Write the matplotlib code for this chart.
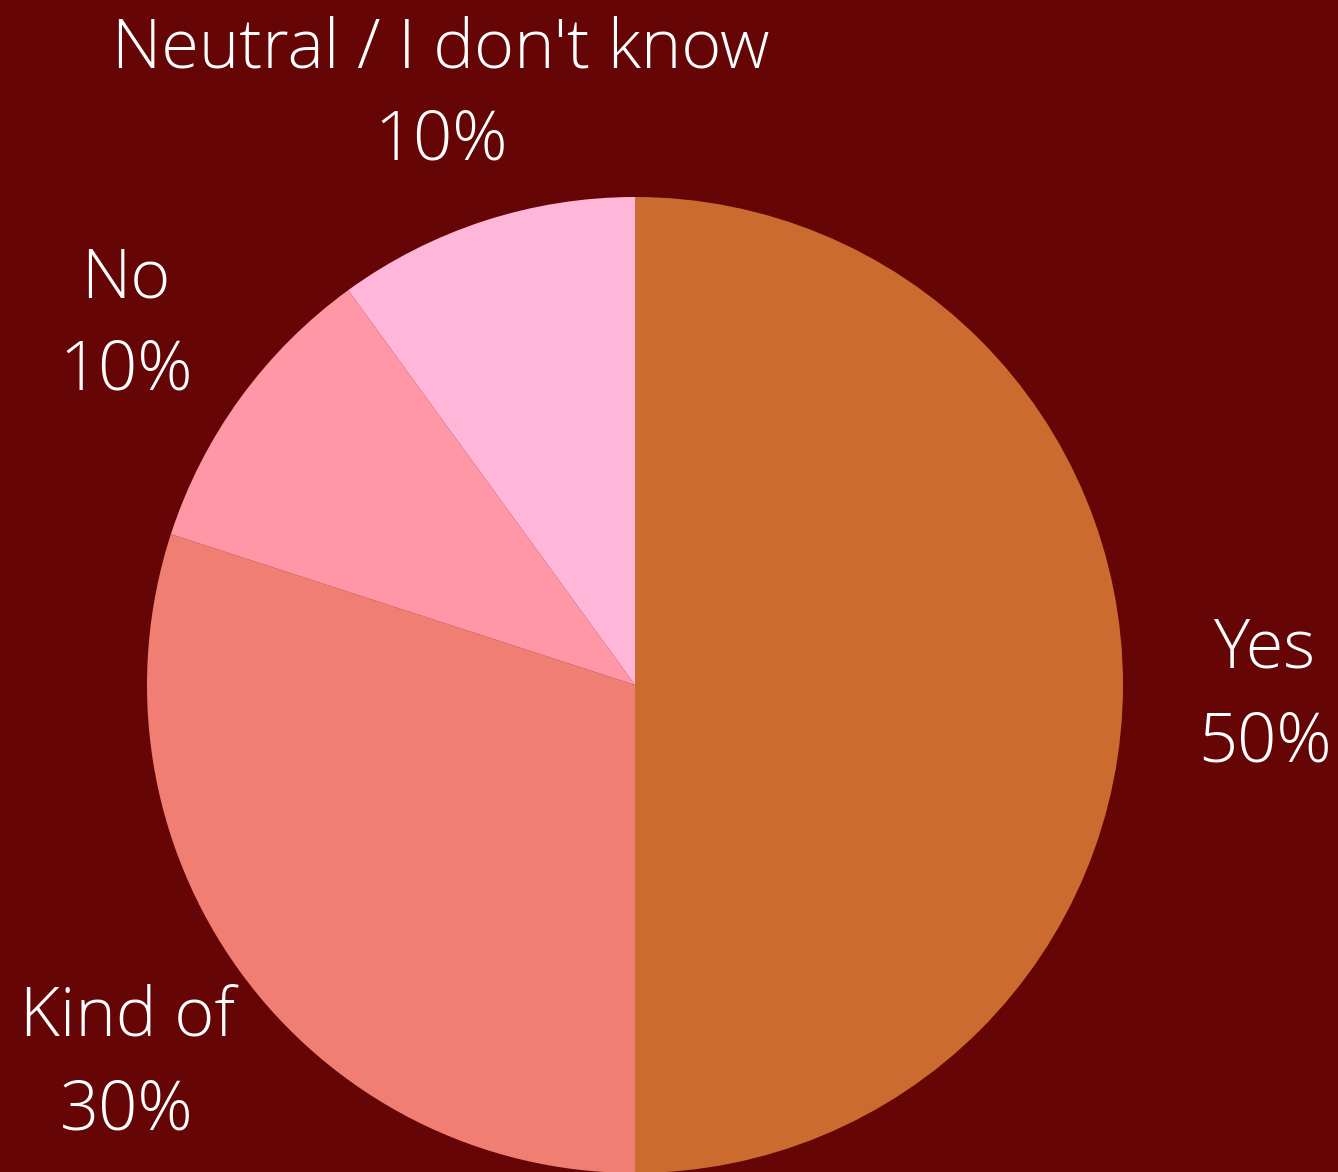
import matplotlib
matplotlib.use("Agg")
import matplotlib.pyplot as plt

categories = ["Yes", "Kind of", "No", "Neutral / I don't know"]
values = [50, 30, 10, 10]
pct_labels = ["50%", "30%", "10%", "10%"]
colors = ["#CC6B30", "#F07E72", "#FF97A6", "#FFB6D9"]
bg = "#650505"

W, H = 1338, 1172
fig = plt.figure(figsize=(W / 100, H / 100), dpi=100, facecolor=bg)
ax = fig.add_axes([0, 0, 1, 1])
ax.set_facecolor(bg)

cx, cy, r = 635, H - 685, 488
ax.pie(values, colors=colors, startangle=90, counterclock=False,
       center=(cx, cy), radius=r, frame=True,
       wedgeprops=dict(linewidth=0))
ax.set_xlim(0, W)
ax.set_ylim(0, H)
ax.set_aspect("equal")
ax.axis("off")

# label positions (pixel coords): x center, baseline of name, baseline of pct
label_pos = [(1265, 667, 762), (127, 1035, 1130), (126, 297, 390), (441, 68, 160)]
font = dict(family=["Open Sans", "DejaVu Sans"], fontweight="light",
            fontsize=49.3, color="white", ha="center", va="baseline")
for name, pct, (x, y1, y2) in zip(categories, pct_labels, label_pos):
    ax.text(x, H - y1, name, **font)
    ax.text(x, H - y2, pct, **font)

fig.savefig("out.png", dpi=100, facecolor=bg)
